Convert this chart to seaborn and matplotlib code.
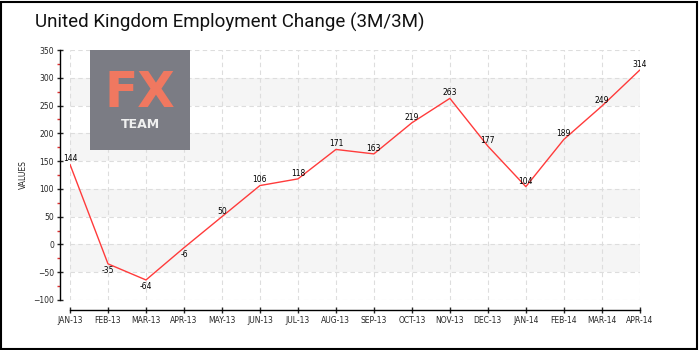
import matplotlib
matplotlib.use("Agg")
import matplotlib.pyplot as plt
import seaborn as sns
import pandas as pd
from matplotlib.patches import Rectangle
from matplotlib.ticker import MultipleLocator

months = ["JAN-13", "FEB-13", "MAR-13", "APR-13", "MAY-13", "JUN-13", "JUL-13", "AUG-13",
          "SEP-13", "OCT-13", "NOV-13", "DEC-13", "JAN-14", "FEB-14", "MAR-14", "APR-14"]
values = [144, -35, -64, -6, 50, 106, 118, 171, 163, 219, 263, 177, 104, 189, 249, 314]
title = "United Kingdom Employment Change (3M/3M)"
ylabel = "VALUES"

df = pd.DataFrame({"x": range(len(months)), "v": values})

sns.set_theme(style="white")
plt.rcParams["font.family"] = ["DejaVu Sans"]

fig = plt.figure(figsize=(7, 3.5), dpi=100)
ax = fig.add_axes([0.1, 0.143, 0.814, 0.714])

# alternating bands
for lo in [-50, 50, 150, 250]:
    ax.axhspan(lo, lo + 50, color="#f5f5f5", zorder=0, lw=0)

sns.lineplot(data=df, x="x", y="v", ax=ax, color="#ff3b3b", lw=1.0, zorder=3)

for xi, v in zip(df["x"], values):
    off = -5 if v < 0 else 4
    ax.annotate(str(v), (xi, v), xytext=(0, off), textcoords="offset points",
                ha="center", va="center", fontsize=5.5, color="black", zorder=4)

ax.set_xlim(0, len(months) - 1)
ax.set_ylim(-100, 350)
ax.set_xticks(range(len(months)))
ax.set_xticklabels(months)
ax.yaxis.set_major_locator(MultipleLocator(50))
ax.yaxis.set_minor_locator(MultipleLocator(25))
ax.grid(True, which="major", ls=(0, (4, 3)), color="#dddddd", lw=0.8, zorder=1)
ax.set_xlabel("")
ax.set_ylabel(ylabel, fontsize=5.5, labelpad=4)
sns.despine(ax=ax, offset=7)
ax.tick_params(axis="y", which="major", labelsize=5.5, direction="inout", length=5, width=1, pad=2, left=True)
ax.tick_params(axis="y", which="minor", direction="out", length=2.5, width=1, color="#e03030", left=True)
ax.tick_params(axis="x", which="major", labelsize=5.5, direction="inout", length=5, width=1, pad=2, bottom=True)
for s in ["left", "bottom"]:
    ax.spines[s].set_color("black")
    ax.spines[s].set_linewidth(1)

# logo
logo = fig.add_axes([90 / 700, 1 - 150 / 350, 100 / 700, 100 / 350])
logo.set_facecolor("#7b7c84")
logo.set_xticks([]); logo.set_yticks([])
for s in logo.spines.values():
    s.set_visible(False)
logo.text(0.5, 0.57, "FX", color="#f07860", fontsize=35, ha="center", va="center",
          transform=logo.transAxes, fontweight="bold")
logo.text(0.5, 0.26, "TEAM", color="#f0f0f0", fontsize=9, ha="center", va="center",
          transform=logo.transAxes, fontweight="bold")

fig.text(35 / 700, 1 - 22 / 350, title, fontsize=13.5, ha="left", va="center", color="#111111",
         family=["Roboto", "DejaVu Sans"], fontweight="normal")

fig.patches.append(Rectangle((0.002, 0.004), 0.994, 0.99, transform=fig.transFigure,
                             fill=False, edgecolor="black", lw=1.5))

fig.savefig("out.png", dpi=100)
